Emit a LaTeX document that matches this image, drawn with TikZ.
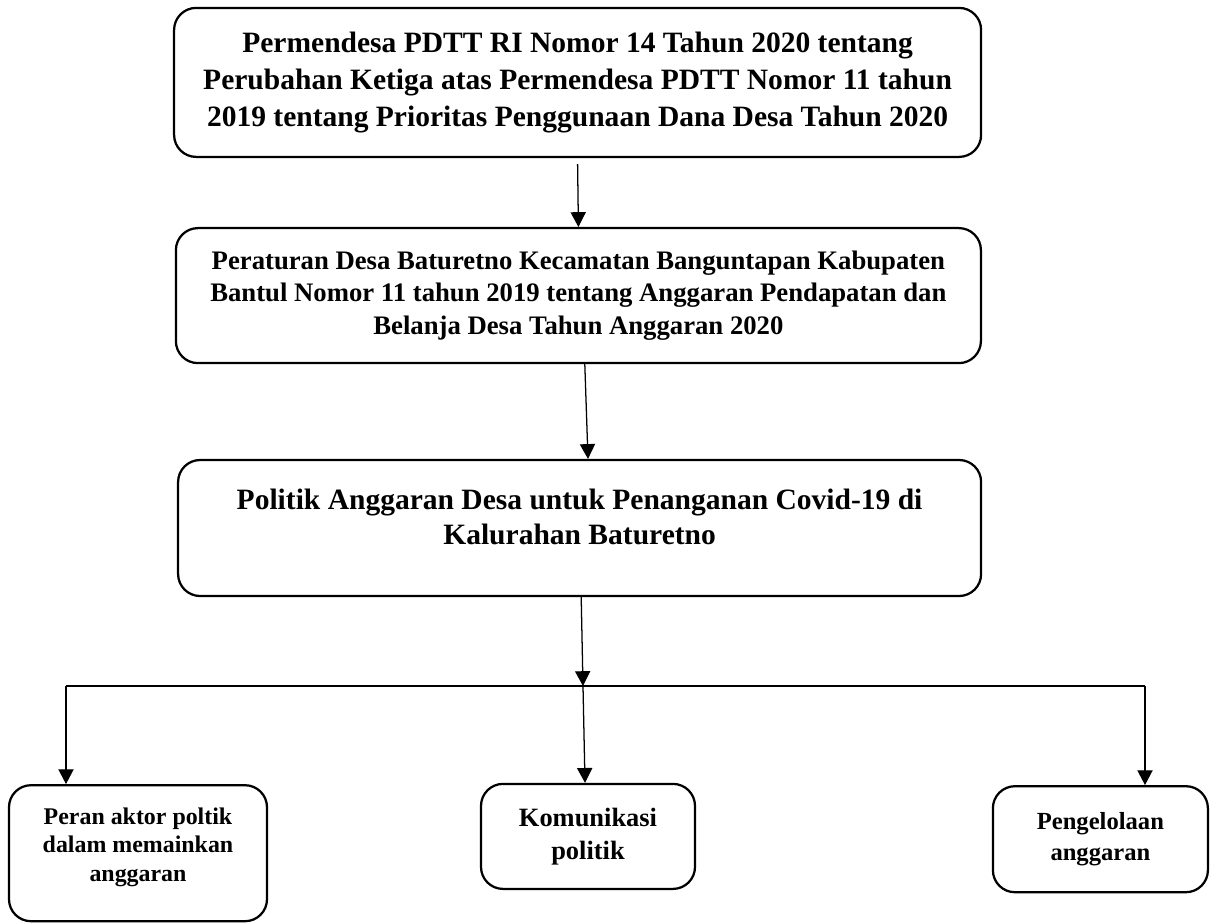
\documentclass[tikz,border=0pt]{standalone}
\usepackage{fontspec}
\setmainfont{Liberation Serif}
\usepackage{tikz}
\usetikzlibrary{arrows.meta,positioning,calc}

\begin{document}
\begin{tikzpicture}[
  font=\bfseries,
  >={Triangle[length=0.37cm,width=0.38cm]},
  box/.style={draw=black, rounded corners=0.55cm, align=center, line width=1.6pt, inner sep=4pt},
  flow/.style={->, line width=0.9pt},
  link/.style={line width=0.75pt}
]
  \useasboundingbox (0,0) rectangle (30.275,-23.05);

  % regulations
  \node[box, minimum width=20.175cm, minimum height=3.725cm,
    font=\bfseries\fontsize{21}{26.3}\selectfont] (perm) at (14.44,-2.06)
    {Permendesa PDTT RI Nomor 14 Tahun 2020 tentang\\
     Perubahan Ketiga atas Permendesa PDTT Nomor 11 tahun\\
     2019 tentang Prioritas Penggunaan Dana Desa Tahun 2020};
  \node[box, minimum width=20.125cm, minimum height=3.375cm,
    font=\bfseries\fontsize{19}{23.4}\selectfont] (perdes) at (14.46,-7.39)
    {Peraturan Desa Baturetno Kecamatan Banguntapan Kabupaten\\
     Bantul Nomor 11 tahun 2019 tentang Anggaran Pendapatan dan\\
     Belanja Desa Tahun Anggaran 2020};

  % main topic
  \node[box, minimum width=20.075cm, minimum height=3.4cm, text depth=0.55cm,
    font=\bfseries\fontsize{21}{24.9}\selectfont] (politik) at (14.49,-13.2)
    {Politik Anggaran Desa untuk Penanganan Covid-19 di\\
     Kalurahan Baturetno};

  % aspects
  \node[box, minimum width=6.45cm, minimum height=3.4cm, text depth=0.43cm,
    font=\bfseries\fontsize{17}{20}\selectfont] (aktor) at (3.45,-21.33)
    {Peran aktor poltik\\dalam memainkan\\anggaran};
  \node[box, minimum width=5.35cm, minimum height=2.625cm,
    font=\bfseries\fontsize{18.8}{23.5}\selectfont] (komunikasi) at (14.7,-20.91)
    {Komunikasi\\politik};
  \node[box, minimum width=5.375cm, minimum height=2.65cm,
    font=\bfseries\fontsize{17.5}{22}\selectfont] (kelola) at (27.51,-20.98)
    {Pengelolaan\\anggaran};

  \coordinate (split) at (14.575,-17.15);
  \coordinate (left) at (1.65,-17.15);
  \coordinate (right) at (28.625,-17.15);

  \draw[flow] ([yshift=-0.15cm]perm.south) -- (perdes.north);
  \draw[flow] ([xshift=0.16cm]perdes.south) -- ([xshift=0.21cm]politik.north);
  \draw[flow] ([xshift=0.04cm]politik.south) -- (split);
  \draw[link] (left) -- (right);
  \draw[flow] (left) -- (left |- aktor.north);
  \draw[flow] (split) -- ([xshift=0.05cm]split |- komunikasi.north);
  \draw[flow] (right) -- (right |- kelola.north);
\end{tikzpicture}
\end{document}
